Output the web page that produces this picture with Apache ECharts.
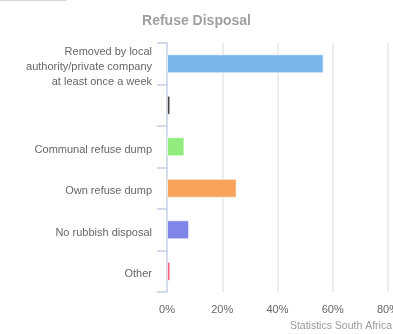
<!DOCTYPE html>
<html>
<head>
<meta charset="utf-8">
<script src="https://cdn.jsdelivr.net/npm/echarts@6/dist/echarts.min.js"></script>
<style>
  html, body { margin: 0; padding: 0; background: #fff; }
  #chart { width: 393px; height: 334px; }
</style>
</head>
<body>
<div id="chart"></div>
<script>
// Household refuse disposal shares (percent)
const categories = [
  'Removed by local\nauthority/private company\nat least once a week',
  '',
  'Communal refuse dump',
  'Own refuse dump',
  'No rubbish disposal',
  'Other'
];
const shares = [56.7, 1.2, 6.3, 25.2, 8.0, 1.2];
const barColors = ['#7cb5ec', '#434348', '#90ed7d', '#f7a35c', '#8085e9', '#f15c80'];
const xTicks = [0, 20, 40, 60, 80];

const font = '"Liberation Sans", Arial, sans-serif';
const chart = echarts.init(document.getElementById('chart'));

const plotTop = 43, plotBottom = 42;
const labelDrop = 3; // category names sit a little below the bar centres

chart.setOption({
  animation: false,
  textStyle: { fontFamily: font },
  title: {
    text: 'Refuse Disposal',
    left: 'center',
    top: 9,
    textStyle: { fontSize: 14, fontWeight: 'bold', color: '#a0a0a0', fontFamily: font }
  },
  grid: [
    { left: 167, right: 5, top: plotTop, bottom: plotBottom, outerBoundsMode: 'none' },
    { left: 167, right: 5, top: plotTop + labelDrop, bottom: plotBottom - labelDrop, outerBoundsMode: 'none' }
  ],
  xAxis: [
    {
      type: 'value',
      gridIndex: 0,
      min: xTicks[0],
      max: xTicks[xTicks.length - 1],
      interval: 20,
      axisLine: { show: false },
      axisTick: { show: false },
      splitLine: { lineStyle: { color: '#e6e6e6', width: 1.5 } },
      axisLabel: { formatter: '{value}%', color: '#666', fontSize: 11, margin: 12, fontFamily: font }
    },
    { type: 'value', gridIndex: 1, show: false, min: 0, max: 80 }
  ],
  yAxis: [
    {
      type: 'category',
      gridIndex: 0,
      data: categories,
      inverse: true,
      axisLine: { lineStyle: { color: '#ccd6eb', width: 1.5 } },
      axisTick: { show: true, length: 10, lineStyle: { color: '#c4cfe4', width: 1.5 } },
      axisLabel: { show: false }
    },
    {
      type: 'category',
      gridIndex: 1,
      data: categories,
      inverse: true,
      axisLine: { show: false },
      axisTick: { show: false },
      axisLabel: { color: '#666', fontSize: 11, margin: 15, lineHeight: 15, fontFamily: font }
    }
  ],
  series: [{
    type: 'bar',
    xAxisIndex: 0,
    yAxisIndex: 0,
    barWidth: 19,
    data: shares.map((v, i) => ({
      value: v,
      itemStyle: { color: barColors[i], borderColor: 'rgba(255,255,255,0.6)', borderWidth: 1 }
    }))
  }],
  graphic: [
    {
      type: 'text',
      right: 1,
      bottom: 2,
      style: { text: 'Statistics South Africa', fill: '#999', fontSize: 10.5, fontFamily: font }
    },
    {
      type: 'line',
      shape: { x1: 0, y1: 0.5, x2: 67, y2: 0.5 },
      style: { stroke: '#d8d8d8', lineWidth: 1 }
    }
  ]
});
</script>
</body>
</html>
